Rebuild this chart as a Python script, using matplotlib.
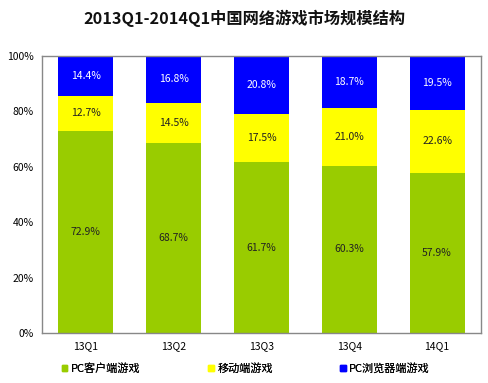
import matplotlib.pyplot as plt
import numpy as np
from matplotlib.patches import Patch

plt.rcParams['font.family'] = ['Noto Sans CJK SC', 'DejaVu Sans']

quarters = ['13Q1', '13Q2', '13Q3', '13Q4', '14Q1']
pc_client = [72.9, 68.7, 61.7, 60.3, 57.9]
mobile = [12.7, 14.5, 17.5, 21.0, 22.6]
pc_browser = [14.4, 16.8, 20.8, 18.7, 19.5]
series_names = ['PC客户端游戏', '移动端游戏', 'PC浏览器端游戏']
colors = ['#99cc00', '#ffff00', '#0000ff']
text_colors = ['#222222', '#222222', '#ffffff']

fig = plt.figure(figsize=(4.89, 3.83), dpi=100)
ax = fig.add_axes([0.0859, 0.1305, 0.8977, 0.7233])

x = np.arange(len(quarters))
bottom = np.zeros(len(quarters))
for vals, c, tc in zip([pc_client, mobile, pc_browser], colors, text_colors):
    vals = np.array(vals)
    ax.bar(x, vals, 0.625, bottom=bottom, color=c, edgecolor='none')
    for xi, b, v in zip(x, bottom, vals):
        ax.text(xi, b + v / 2, '%.1f%%' % v, ha='center', va='center',
                fontsize=7.5, color=tc)
    bottom += vals

ax.set_xlim(-0.5, len(quarters) - 0.5)
ax.set_ylim(0, 100)
ax.set_yticks(np.arange(0, 101, 20))
ax.set_yticklabels(['%d%%' % v for v in range(0, 101, 20)], fontsize=7.5)
ax.set_xticks(x)
ax.set_xticklabels(quarters, fontsize=7.5)
ax.tick_params(length=0, pad=6)
for s in ax.spines.values():
    s.set_color('#888888')
    s.set_linewidth(1)

fig.text(0.5, 0.953, '2013Q1-2014Q1中国网络游戏市场规模结构', ha='center', va='center',
         fontsize=11.7, fontweight='bold', color='#111111')

# legend entries placed one by one to match the spacing
leg_x = [0.126, 0.426, 0.696]
for name, c, lx in zip(series_names, colors, leg_x):
    lg = fig.legend([Patch(color=c)], [name], loc='center left',
                    bbox_to_anchor=(lx, 0.037), frameon=False, fontsize=8,
                    handlelength=0.5, handleheight=0.5, handletextpad=0.3,
                    borderpad=0, borderaxespad=0)
    fig.add_artist(lg)

fig.savefig('out.png', dpi=100)
